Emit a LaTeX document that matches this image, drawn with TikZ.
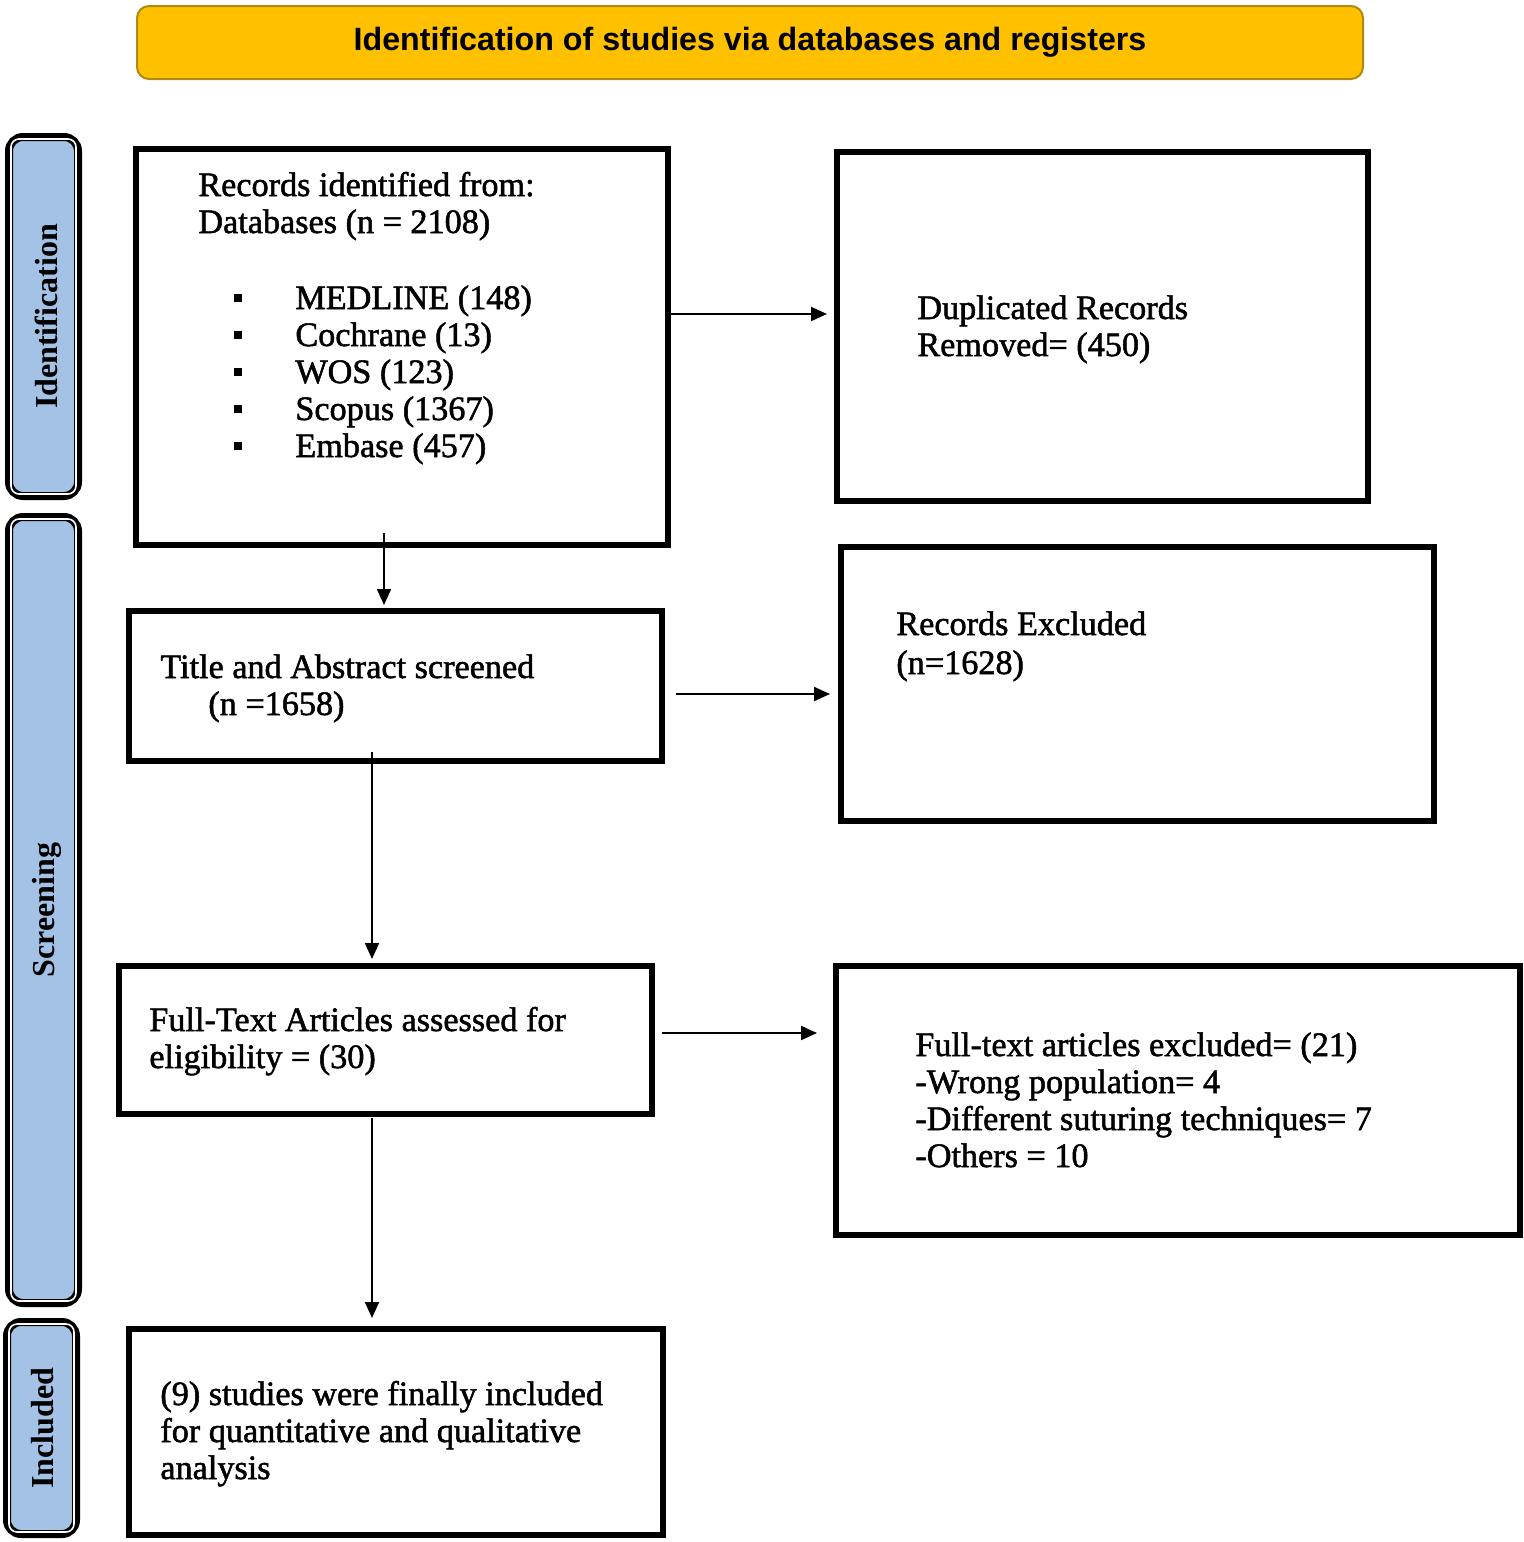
\documentclass[tikz,border=0pt]{standalone}
\usepackage{fontspec}
\setmainfont{Liberation Serif}
\setsansfont{Liberation Sans}
\newfontfamily\boxfont{Liberation Serif}[FakeBold=1.5]
\usetikzlibrary{arrows.meta,fit}
\definecolor{bannergold}{HTML}{FFC000}
\definecolor{bannerrim}{HTML}{B08A10}
\definecolor{phaseblue}{HTML}{A4C2E6}
\newcommand{\sqbul}{\makebox[30.5pt][l]{\raisebox{3.3pt}{\rule{4pt}{4pt}}}}
\begin{document}
\begin{tikzpicture}[x=0.5pt,y=-0.5pt,
    box/.style={draw,line width=3pt,inner sep=0pt},
    phase/.style={draw,line width=4pt,fill=phaseblue,rounded corners=7pt,inner sep=0pt},
    phasetext/.style={rotate=90,font=\fontsize{16}{18}\selectfont\bfseries},
    txt/.style={anchor=base west,align=left,inner sep=0pt,font=\boxfont\fontsize{17.1}{18.5}\selectfont},
    arr/.style={line width=1pt,-{Triangle[length=8pt,width=7pt]}}]
  \useasboundingbox (0,0) rectangle (1524,1542);
  \node[fit={(137,6) (1363,79)},draw=bannerrim,line width=1pt,fill=bannergold,
    rounded corners=6pt,inner sep=0pt] (banner) {};
  \node[font=\sffamily\bfseries\fontsize{16.1}{18}\selectfont] at (banner.center)
    {Identification of studies via databases and registers};
  \node[phase,fit={(9,137) (78,496)}] (idphase) {};
  \node[phase,fit={(9,517) (78,1303)}] (scrphase) {};
  \node[phase,fit={(7,1322) (76,1534)}] (incphase) {};
  \foreach \p in {idphase,scrphase,incphase}
    \draw[white,line width=0.8pt,rounded corners=4pt]
      ([shift={(3pt,3pt)}]\p.south west) rectangle ([shift={(-3pt,-3pt)}]\p.north east);
  \node[phasetext] at ([xshift=1.5pt]idphase.center) {Identification};
  \node[phasetext] at ([xshift=1.5pt]scrphase.center) {Screening};
  \node[phasetext] at ([xshift=0.5pt]incphase.center) {Included};
  \node[box,fit={(136,149) (668,545)}] (records) {};
  \node[box,fit={(837,152) (1368,501)}] (dupl) {};
  \node[box,fit={(129,611) (662,761)}] (screened) {};
  \node[box,fit={(841,547) (1434,821)}] (excl) {};
  \node[box,fit={(119,966) (652,1114)}] (fulltext) {};
  \node[box,fit={(836,966) (1520,1235)}] (ftexcl) {};
  \node[box,fit={(129,1329) (663,1535)}] (final) {};
  \node[txt] at (198,233) {Records identified from:\\Databases (n = 2108)};
  \node[txt] at (234,457) {\sqbul MEDLINE (148)\\\sqbul Cochrane (13)\\\sqbul WOS (123)\\
    \sqbul Scopus (1367)\\\sqbul Embase (457)};
  \node[txt] at (917,356) {Duplicated Records\\Removed= (450)};
  \node[txt] at (160,715) {Title and Abstract screened\\\hspace*{24pt}(n =1658)};
  \node[txt,font=\boxfont\fontsize{17.1}{19.5}\selectfont] at (896,674) {Records Excluded\\(n=1628)};
  \node[txt] at (149,1068) {Full-Text Articles assessed for\\eligibility = (30)};
  \node[txt] at (915,1167) {Full-text articles excluded= (21)\\-Wrong population= 4\\
    -Different suturing techniques= 7\\-Others = 10};
  \node[txt] at (160,1479) {(9) studies were finally included\\for quantitative and qualitative\\analysis};
  \coordinate (r2d) at (671,314);
  \coordinate (r2s) at (384,533);
  \coordinate (s2e) at (676,694);
  \coordinate (s2f) at (372,752);
  \coordinate (f2x) at (662,1033);
  \coordinate (f2i) at (372,1118);
  \draw[arr,shorten >=3.5pt] (r2d) -- (r2d -| dupl.west);
  \draw[arr,shorten >=1.5pt] (r2s) -- (r2s |- screened.north);
  \draw[arr,shorten >=4pt] (s2e) -- (s2e -| excl.west);
  \draw[arr,shorten >=2pt] (s2f) -- (s2f |- fulltext.north);
  \draw[arr,shorten >=8pt] (f2x) -- (f2x -| ftexcl.west);
  \draw[arr,shorten >=4pt] (f2i) -- (f2i |- final.north);
\end{tikzpicture}
\end{document}
